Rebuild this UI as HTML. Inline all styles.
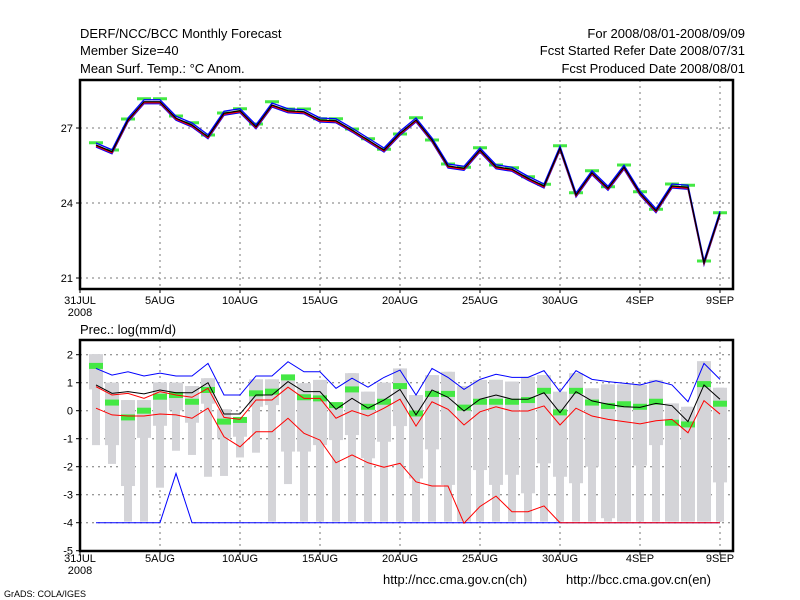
<!DOCTYPE html>
<html><head><meta charset="utf-8">
<style>
body{margin:0;background:#fff;width:800px;height:600px;overflow:hidden}
svg{display:block;font-family:"Liberation Sans",sans-serif}
</style></head>
<body>
<svg id="chart" width="800" height="600" viewBox="0 0 800 600">
<g font-size="13" fill="#000">
<text x="80" y="38">DERF/NCC/BCC Monthly Forecast</text>
<text x="80" y="55">Member Size=40</text>
<text x="80" y="73">Mean Surf. Temp.: °C Anom.</text>
<text x="745" y="38" text-anchor="end">For 2008/08/01-2008/09/09</text>
<text x="745" y="55" text-anchor="end">Fcst Started Refer Date 2008/07/31</text>
<text x="745" y="73" text-anchor="end">Fcst Produced Date 2008/08/01</text>
<text x="80" y="334">Prec.: log(mm/d)</text>
<text x="383" y="584">http://ncc.cma.gov.cn(ch)</text>
<text x="566" y="584">http://bcc.cma.gov.cn(en)</text>
<text x="4" y="597" font-size="9">GrADS: COLA/IGES</text>
</g>
<g id="top"></g>
<g id="bot"></g>
</svg>
<script>
const tempMean=[26.32,26.05,27.32,28.05,28.05,27.39,27.12,26.65,27.59,27.69,27.05,27.92,27.69,27.65,27.32,27.29,26.92,26.52,26.12,26.79,27.32,26.52,25.48,25.39,26.12,25.45,25.35,24.99,24.68,26.19,24.32,25.21,24.59,25.43,24.39,23.69,24.68,24.63,21.61,23.59];
const tempObs=[26.41,26.12,27.36,28.17,28.17,27.48,27.21,26.72,27.6,27.77,27.16,28.05,27.76,27.76,27.37,27.37,26.96,26.57,26.15,26.76,27.41,26.52,25.56,25.43,26.21,25.52,25.41,25.05,24.75,26.29,24.41,25.29,24.65,25.52,24.45,23.75,24.76,24.71,21.68,23.61];
const tempTicks=[27,24,21];
const dayTicks=[0,5,10,15,20,25,30,35,40];
const dayLabels=["31JUL","5AUG","10AUG","15AUG","20AUG","25AUG","30AUG","4SEP","9SEP"];
const precTicks=[2,1,0,-1,-2,-3,-4,-5];
const precUpper=[1.51,1.27,1.39,1.24,1.34,1.24,1.24,1.69,0.56,0.56,1.24,1.24,1.75,1.39,1.39,0.8,1.16,0.84,1.19,1.45,0.56,1.51,1.19,0.76,1.12,1.3,1.19,1.19,1.43,0.68,1.43,1.12,1.04,0.98,0.92,1.07,0.92,0.32,1.69,1.12];
const precMedian=[0.92,0.62,0.68,0.6,0.74,0.64,0.64,1.0,-0.12,-0.12,0.56,0.56,1.04,0.68,0.68,0.05,0.44,0.09,0.38,0.76,-0.15,0.74,0.48,-0.01,0.41,0.56,0.41,0.41,0.64,-0.07,0.68,0.35,0.23,0.14,0.12,0.26,0.18,-0.39,0.92,0.41];
const precRedHi=[0.86,0.56,0.62,0.44,0.68,0.56,0.48,0.8,-0.24,-0.31,0.38,0.38,0.84,0.44,0.44,-0.27,0,-0.19,0.09,0.41,-0.55,0.32,0.05,-0.51,-0.04,0.14,-0.01,-0.01,0.17,-0.51,0.09,-0.19,-0.31,-0.39,-0.47,-0.36,-0.31,-0.79,0.36,-0.12];
const precRedLo=[0.09,-0.15,-0.19,-0.19,-0.12,-0.15,-0.27,0.09,-0.93,-1.29,-0.75,-0.75,-0.27,-0.81,-1.05,-1.86,-1.58,-1.86,-2.02,-1.88,-2.54,-2.69,-2.69,-4.02,-3.42,-3.05,-3.61,-3.61,-3.4,-4,-4,-4,-4,-4,-4,-4,-4,-4,-4,-4];
const precLower=[-4,-4,-4,-4,-4,-2.24,-4,-4,-4,-4,-4,-4,-4,-4,-4,-4,-4,-4,-4,-4,-4,-4,-4,-4,-4,-4,-4,-4,-4,-4,-4,-4,-4,-4,-4,-4,-4,-4,-4,-4];
const boxMax=[2.02,1.0,0.38,0.38,1.01,1.0,0.88,1.16,0.05,-0.27,1.12,1.12,1.21,0.98,1.1,0.26,1.34,0.68,1.0,1.51,0.56,1.27,1.39,0.88,1.1,1.1,1.04,1.21,1.27,0.68,1.34,0.8,0.94,0.94,0.92,1.1,0.26,0.14,1.77,0.82];
const boxQ3=[2.02,1.0,0.38,0.38,1.01,1.0,0.88,1.16,0.05,-0.27,1.12,1.12,1.21,0.98,1.1,0.26,1.34,0.68,1.0,1.51,0.56,1.27,1.39,0.88,1.1,1.1,1.04,1.21,1.27,0.68,1.34,0.8,0.94,0.94,0.92,1.1,0.26,0.14,1.77,0.82];
const boxQ1=[0.76,-1.23,-2.69,-0.97,-0.54,0.01,-0.43,0.25,-0.99,-0.93,0.14,0.2,-1.46,-1.46,-1.23,-1.05,-0.87,-1.7,-1.11,-0.55,-2.42,-1.38,-2.65,-3.96,-2.12,-2.65,-2.29,-2.95,-1.88,-2.36,-2.59,-2.0,-3.84,-3.96,-1.96,-1.23,-3.96,-3.96,-3.96,-2.56];
const boxMin=[-1.23,-1.9,-3.96,-3.96,-2.75,-1.43,-1.58,-2.36,-2.33,-1.67,-1.5,-3.96,-2.62,-3.96,-3.96,-3.96,-3.96,-3.96,-3.96,-3.96,-3.96,-3.96,-3.96,-3.96,-3.96,-3.96,-3.96,-3.96,-3.96,-3.96,-3.96,-3.96,-3.96,-3.96,-3.96,-3.96,-3.96,-3.96,-3.96,-3.96];
const precObs=[1.6,0.29,-0.24,0,0.5,0.56,0.32,0.74,-0.39,-0.33,0.62,0.68,1.19,0.48,0.44,0.2,0.76,0.14,0.32,0.88,-0.1,0.6,0.6,0.11,0.32,0.32,0.32,0.38,0.71,-0.06,0.71,0.29,0.17,0.23,0.14,0.32,-0.43,-0.49,0.95,0.25];

const NS="http://www.w3.org/2000/svg";
function mk(parent,tag,attrs){const e=document.createElementNS(NS,tag);for(const k in attrs)e.setAttribute(k,attrs[k]);parent.appendChild(e);return e;}
const X0=80,X1=733,DX=16;
function xd(d){return X0+DX*d;}
function yT(v){return 128+(27-v)*25;}
function yP(v){return 410.7-v*28;}
function pts(arr,yf,off){return arr.map((v,i)=>xd(i+1)+","+(yf(v)+off)).join(" ");}

function axes(g,top,bot,ticks,yf,labelY){
  for(const t of ticks){const y=yf(t);
    if(y>top+2&&y<bot-2){const l=mk(g,"line",{x1:X0,x2:X1,y1:y,y2:y,stroke:"#777","stroke-dasharray":"2,4"});
    
    }
    mk(g,"line",{x1:X0-4,x2:X0,y1:y,y2:y,stroke:"#000"});
    const tx=mk(g,"text",{x:X0-7,y:y+4,"font-size":"11","text-anchor":"end"});tx.textContent=t;
    
    
  }
  dayTicks.forEach((d,i)=>{const x=xd(d);
    if(d>0){const l=mk(g,"line",{x1:x,x2:x,y1:top,y2:bot,stroke:"#777","stroke-dasharray":"2,4"});
    
    }
    mk(g,"line",{x1:x,x2:x,y1:bot,y2:bot+4,stroke:"#000"});
    const tx=mk(g,"text",{x:x,y:labelY,"font-size":"11","text-anchor":"middle"});tx.textContent=dayLabels[i];
    
    
  });
  const yr=mk(g,"text",{x:X0,y:labelY+12,"font-size":"11","text-anchor":"middle"});yr.textContent="2008";
  
  
}
function frame(g,top,bot){const r=mk(g,"rect",{x:X0,y:top,width:X1-X0,height:bot-top,fill:"none",stroke:"#000","stroke-width":"2.5"});
  
  }

// top panel
const gt=document.getElementById("top");
axes(gt,80,289,tempTicks,yT,304);
tempObs.forEach((v,i)=>{const r=mk(gt,"rect",{x:xd(i+1)-7,y:yT(v)-1.5,width:14,height:3,fill:"#44e844"});
  
  });
[[-2,"#00f"],[2,"#00f"],[1,"#f00"],[0,"#000"]].forEach(([o,c])=>{const p=mk(gt,"polyline",{points:pts(tempMean,yT,o),fill:"none",stroke:c,"stroke-width":"1.3"});
  
  });
frame(gt,80,289);

// bottom panel
const gb=document.getElementById("bot");
axes(gb,340,551,precTicks,yP,562);
boxMax.forEach((v,i)=>{const x=xd(i+1);
  const w=mk(gb,"rect",{x:x-4,y:yP(v),width:8,height:yP(boxMin[i])-yP(v),fill:"#d4d4d8"});
  
  
  const b=mk(gb,"rect",{x:x-7,y:yP(boxQ3[i]),width:14,height:yP(boxQ1[i])-yP(boxQ3[i]),fill:"#d4d4d8"});
  
  
});
precObs.forEach((v,i)=>{const r=mk(gb,"rect",{x:xd(i+1)-7,y:yP(v)-3,width:14,height:6,fill:"#44e844"});
  
  });
[[precUpper,"#00f"],[precLower,"#00f"],[precRedHi,"#f00"],[precRedLo,"#f00"],[precMedian,"#000"]].forEach(([a,c])=>{
  const p=mk(gb,"polyline",{points:pts(a,yP,0),fill:"none",stroke:c,"stroke-width":"1"});
  
  });
frame(gb,340,551);
</script>
</body></html>
